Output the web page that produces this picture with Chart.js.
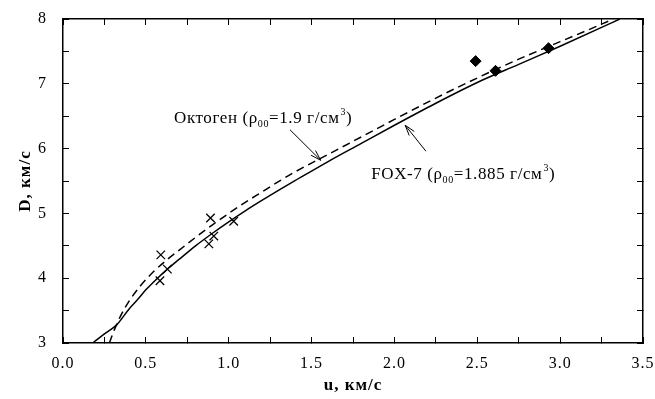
<!DOCTYPE html>
<html><head><meta charset="utf-8">
<script src="https://cdn.jsdelivr.net/npm/chart.js@4"></script>
<style>html,body{margin:0;padding:0;background:#fff}</style>
</head><body>
<canvas id="c" width="655" height="399"></canvas>
<script>
// ---- data ----
const fox7U = [0.18, 0.25, 0.324, 0.40, 0.45, 0.50, 0.55, 0.63, 0.70, 0.80, 0.90, 1.00, 1.10, 1.20, 1.30, 1.40, 1.60, 1.80, 2.00, 2.25, 2.50, 2.75, 3.00, 3.25, 3.36];
const fox7D = [3.00, 3.14, 3.28, 3.53, 3.67, 3.82, 3.95, 4.14, 4.29, 4.50, 4.69, 4.87, 5.04, 5.20, 5.355, 5.505, 5.80, 6.08, 6.36, 6.70, 7.02, 7.30, 7.58, 7.87, 8.00];
const octU = [0.28, 0.30, 0.35, 0.40, 0.47, 0.55, 0.63, 0.70, 0.80, 0.90, 1.00, 1.10, 1.20, 1.30, 1.40, 1.60, 1.80, 2.00, 2.25, 2.50, 2.75, 3.00, 3.25, 3.32];
const octD = [3.00, 3.14, 3.43, 3.65, 3.89, 4.11, 4.29, 4.43, 4.63, 4.82, 5.00, 5.17, 5.33, 5.49, 5.64, 5.91, 6.18, 6.45, 6.78, 7.09, 7.38, 7.65, 7.92, 8.00];
const crossU = [0.59, 0.585, 0.63, 0.89, 0.88, 0.91, 1.03];
const crossD = [4.36, 3.96, 4.14, 4.93, 4.53, 4.65, 4.88];
const diamondU = [2.49, 2.61, 2.93];
const diamondD = [7.35, 7.20, 7.55];
const xTickValues = [0, 0.5, 1.0, 1.5, 2.0, 2.5, 3.0, 3.5];
const xTickLabels = ['0.0', '0.5', '1.0', '1.5', '2.0', '2.5', '3.0', '3.5'];
const yTickValues = [3, 4, 5, 6, 7, 8];
const yTickLabels = ['3', '4', '5', '6', '7', '8'];
const xTitle = 'u, км/с';
const yTitle = 'D, км/с';
const octLabel = [['Октоген (ρ', 'n'], ['00', 'sub'], ['=1.9 г/см', 'n'], ['3', 'sup'], [')', 'n']];
const foxLabel = [['FOX-7 (ρ', 'n'], ['00', 'sub'], ['=1.885 г/см', 'n'], ['3', 'sup'], [')', 'n']];

// ---- annotation placement (data coordinates) ----
const octText = {u: 0.67, d: 6.395};
const octArrow = {from: [1.37, 6.29], to: [1.555, 5.82]};
const foxText = {u: 1.86, d: 5.53};
const foxArrow = {from: [2.19, 5.96], to: [2.065, 6.36]};

const pts = (us, ds) => us.map((u, i) => ({x: u, y: ds[i]}));
const FONT = 'Liberation Serif';

function labelFor(values, labels) {
  return v => {
    for (let i = 0; i < values.length; i++) if (Math.abs(values[i] - v) < 1e-6) return labels[i];
    return '';
  };
}

function drawRich(ctx, x, y, parts) {
  ctx.textBaseline = 'alphabetic';
  ctx.textAlign = 'left';
  for (const [t, kind] of parts) {
    if (kind === 'n') { ctx.font = `17px "${FONT}"`; ctx.fillText(t, x, y); }
    else if (kind === 'sub') { ctx.font = `10px "${FONT}"`; ctx.fillText(t, x, y + 4); }
    else { ctx.font = `10px "${FONT}"`; ctx.fillText(t, x + 1, y - 8); }
    x += ctx.measureText(t).width + (kind === 'sup' ? 1 : 0);
  }
}
function drawArrow(ctx, x1, y1, x2, y2) {
  ctx.beginPath(); ctx.moveTo(x1, y1); ctx.lineTo(x2, y2); ctx.stroke();
  const a = Math.atan2(y2 - y1, x2 - x1), L = 11, s = 0.3;
  ctx.beginPath();
  ctx.moveTo(x2 - L * Math.cos(a - s), y2 - L * Math.sin(a - s));
  ctx.lineTo(x2, y2);
  ctx.lineTo(x2 - L * Math.cos(a + s), y2 - L * Math.sin(a + s));
  ctx.stroke();
}

const spacingPlugin = {
  id: 'spacing',
  beforeUpdate(chart) { chart.ctx.letterSpacing = '1px'; },
  beforeDraw(chart) { chart.ctx.letterSpacing = '1px'; }
};

const annoPlugin = {
  id: 'anno',
  afterDatasetsDraw(chart) {
    const ctx = chart.ctx, xs = chart.scales.x, ys = chart.scales.y;
    const P = (u, d) => [xs.getPixelForValue(u), ys.getPixelForValue(d)];
    ctx.save();
    ctx.letterSpacing = '0.6px';
    ctx.fillStyle = '#000'; ctx.strokeStyle = '#000'; ctx.lineWidth = 1;
    let p = P(octText.u, octText.d); drawRich(ctx, p[0], p[1], octLabel);
    p = P(foxText.u, foxText.d); drawRich(ctx, p[0], p[1], foxLabel);
    let a = P(...octArrow.from), b = P(...octArrow.to); drawArrow(ctx, a[0], a[1], b[0], b[1]);
    a = P(...foxArrow.from); b = P(...foxArrow.to); drawArrow(ctx, a[0], a[1], b[0], b[1]);
    ctx.restore();
  }
};

function axis(pos, min, max, step, cb, size, pad, extra) {
  return Object.assign({
    type: 'linear', position: pos, min, max,
    border: {display: true, color: '#000', width: 1.5},
    grid: {drawOnChartArea: false, drawTicks: true, tickLength: -6, color: '#000', tickColor: '#000', lineWidth: 1},
    ticks: {stepSize: step, maxTicksLimit: 40, autoSkip: false, maxRotation: 0, color: '#000', padding: pad,
            font: {family: FONT, size: 16}, callback: cb},
    afterFit(s) {
      if (s.isHorizontal()) s.height = size; else s.width = size;
      s.paddingTop = 0; s.paddingBottom = 0; s.paddingLeft = 0; s.paddingRight = 0;
    }
  }, extra || {});
}

new Chart(document.getElementById('c'), {
  type: 'scatter',
  data: {
    datasets: [
      {label: 'FOX-7', data: pts(fox7U, fox7D), showLine: true, borderColor: '#000', borderWidth: 1.5,
       pointRadius: 0, cubicInterpolationMode: 'monotone', fill: false},
      {label: 'Октоген', data: pts(octU, octD), showLine: true, borderColor: '#000', borderWidth: 1.5,
       borderDash: [8, 5], pointRadius: 0, cubicInterpolationMode: 'monotone', fill: false},
      {label: 'crosses', data: pts(crossU, crossD), pointStyle: 'crossRot', pointRadius: 6,
       borderColor: '#000', borderWidth: 1.3, backgroundColor: '#000'},
      {label: 'diamonds', data: pts(diamondU, diamondD), pointStyle: 'rectRot', pointRadius: 5.5,
       borderColor: '#000', backgroundColor: '#000', borderWidth: 1}
    ]
  },
  options: {
    responsive: false, animation: false, devicePixelRatio: 1,
    layout: {padding: 0},
    plugins: {legend: {display: false}, tooltip: {enabled: false}},
    scales: {
      x: axis('bottom', 0, 3.5, 0.25, labelFor(xTickValues, xTickLabels), 56, 17, {
        title: {display: true, text: xTitle, color: '#000', font: {family: FONT, size: 17, weight: 'bold'}, padding: {top: 0, bottom: 3}}
      }),
      y: axis('left', 3, 8, 0.5, labelFor(yTickValues, yTickLabels), 63, 22, {
        title: {display: true, text: yTitle, color: '#000', font: {family: FONT, size: 17, weight: 'bold'}, padding: {top: 15, bottom: 0}}
      }),
      x2: axis('top', 0, 3.5, 0.25, () => '', 19, 0),
      y2: axis('right', 3, 8, 0.5, () => '', 12, 0)
    }
  },
  plugins: [spacingPlugin, annoPlugin]
});
</script>
</body></html>
